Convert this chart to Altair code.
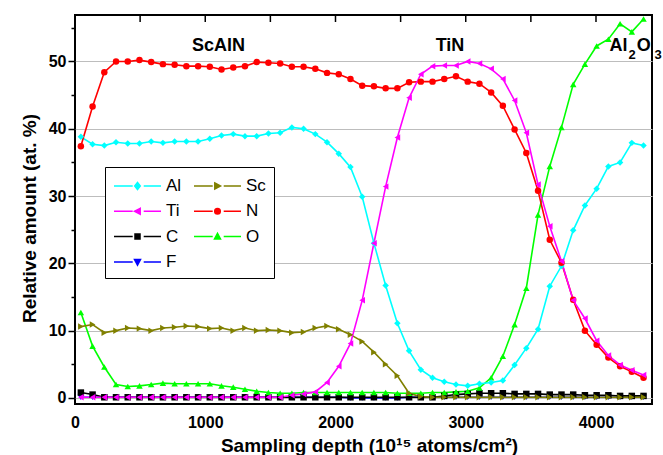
import altair as alt
import pandas as pd

# ---------------- data ----------------
depth = [45, 135, 225, 315, 405, 495, 585, 675, 765, 855, 945, 1035, 1125, 1215, 1305,
         1395, 1485, 1575, 1665, 1755, 1845, 1935, 2025, 2115, 2205, 2295, 2385, 2475,
         2565, 2655, 2745, 2835, 2925, 3015, 3105, 3195, 3285, 3375, 3465, 3555, 3645,
         3735, 3825, 3915, 4005, 4095, 4185, 4275, 4365]

al = [38.8, 37.7, 37.5, 38.0, 37.8, 37.8, 38.1, 37.9, 38.1, 38.1,
      38.1, 38.5, 39.0, 39.2, 38.9, 38.9, 39.3, 39.4, 40.2, 40.0,
      39.2, 38.0, 36.3, 34.3, 29.9, 23.0, 16.7, 11.1, 7.0, 4.2,
      3.0, 2.4, 2.0, 1.8, 2.1, 2.3, 2.6, 4.9, 7.4, 10.2,
      16.6, 19.6, 24.9, 28.6, 31.1, 34.4, 35.0, 37.9, 37.5]
sc = [10.6, 10.9, 9.7, 10.0, 10.4, 10.3, 10.0, 10.4, 10.5, 10.7,
      10.6, 10.3, 10.4, 10.0, 10.4, 10.0, 10.1, 10.0, 9.7, 9.8,
      10.4, 10.7, 10.2, 9.4, 8.4, 6.8, 5.0, 3.3, 0.7, 0.2,
      0.1, 0.1, 0.1, 0.1, 0.1, 0.1, 0.1, 0.1, 0.1, 0.1,
      0.1, 0.1, 0.1, 0.1, 0.1, 0.1, 0.1, 0.1, 0.1]
ti = [0.1, 0.1, 0.1, 0.1, 0.1, 0.1, 0.1, 0.1, 0.1, 0.1,
      0.1, 0.1, 0.1, 0.1, 0.1, 0.1, 0.1, 0.1, 0.4, 0.6,
      0.9, 2.3, 4.7, 8.1, 14.5, 23.0, 31.4, 38.7, 44.6, 48.1,
      49.3, 49.4, 49.4, 50.0, 49.7, 48.9, 47.4, 44.2, 39.4, 31.7,
      25.5, 20.3, 14.5, 11.8, 8.5, 6.3, 4.9, 4.1, 3.4]
n = [37.4, 43.3, 48.4, 50.0, 50.0, 50.2, 49.9, 49.6, 49.5, 49.3,
     49.3, 49.2, 48.8, 49.1, 49.3, 49.9, 49.8, 49.7, 49.2, 49.2,
     48.9, 48.3, 48.1, 47.4, 46.4, 46.3, 46.0, 46.0, 46.9, 47.0,
     47.0, 47.4, 47.8, 47.0, 46.7, 45.4, 43.4, 39.9, 36.4, 30.8,
     23.5, 20.1, 14.6, 10.0, 7.9, 6.0, 4.7, 3.9, 3.0]
c = [0.8, 0.5, 0.1, 0.1, 0.1, 0.1, 0.1, 0.1, 0.1, 0.1,
     0.1, 0.1, 0.1, 0.1, 0.1, 0.1, 0.1, 0.1, 0.1, 0.1,
     0.1, 0.1, 0.1, 0.1, 0.1, 0.1, 0.1, 0.1, 0.1, 0.1,
     0.1, 0.3, 0.5, 0.6, 0.7, 0.7, 0.7, 0.6, 0.6, 0.6,
     0.5, 0.5, 0.5, 0.4, 0.4, 0.4, 0.3, 0.3, 0.3]
o = [12.7, 7.7, 4.6, 2.0, 1.7, 1.8, 2.0, 2.2, 2.1, 2.1,
     2.1, 2.1, 1.8, 1.6, 1.3, 1.0, 0.8, 0.7, 0.7, 0.8,
     0.8, 0.8, 0.8, 0.8, 0.8, 0.8, 0.8, 0.7, 0.7, 0.7,
     0.8, 0.8, 0.9, 1.0, 1.5, 3.0, 6.2, 10.9, 16.3, 27.2,
     34.4, 40.2, 46.6, 49.6, 52.3, 53.3, 55.6, 54.4, 56.3]
f = [0.1, 0.1, 0.1, 0.1, 0.1, 0.1, 0.1, 0.1, 0.1, 0.1,
     0.1, 0.1, 0.1, 0.1, 0.1, 0.1, 0.1, 0.1, 0.1, 0.1,
     0.1, 0.1, 0.1, 0.0, 0.0, 0.0, 0.0, 0.0, 0.1, 0.1,
     0.1, 0.1, 0.1, 0.1, 0.1, 0.1, 0.1, 0.1, 0.1, 0.1,
     0.1, 0.1, 0.1, 0.1, 0.1, 0.1, 0.1, 0.1, 0.1]

series_names = ["Al", "Sc", "Ti", "N", "C", "O", "F"]
series_values = [al, sc, ti, n, c, o, f]
colors = ["#00ffff", "#808000", "#ff00ff", "#ff0000", "#000000", "#00ff00", "#0000ff"]
shapes = ["diamond", "triangle-right", "triangle-left", "circle", "square",
          "triangle-up", "triangle-down"]
draw_order = ["F", "C", "O", "Sc", "Al", "N", "Ti"]
# legend is laid out column by column: Al Ti C F | Sc N O
legend_order = ["Al", "Ti", "C", "F", "Sc", "N", "O"]

x_label_values = [0, 1000, 2000, 3000, 4000]
y_tick_values = [0, 5, 10, 15, 20, 25, 30, 35, 40, 45, 50, 55]
top_tick_values = [500, 1000, 1500, 2000, 2500, 3000, 3500, 4000]

ann_text = ["ScAlN", "TiN", "Al", "O"]
ann_x = [1102, 2879, 4104, 4312]
ann_y = [52.3, 52.3, 52.3, 52.3]
ann_align = ["center", "center", "left", "left"]
sub_text = ["2", "3"]
sub_x = [4250, 4450]
sub_y = [51.0, 51.0]

# legend symbols: line with marker in the middle
_line = "M-1,0L0.87,0M1.97,0L3.7,0"
legend_marks = {
    "Al": "M1.35,-0.36L1.63,0L1.35,0.36L1.07,0Z",
    "Sc": "M1.08,-0.3L1.65,0L1.08,0.3Z",
    "Ti": "M1.62,-0.3L1.05,0L1.62,0.3Z",
    "N": "M1.63,0A0.28,0.28 0 1,1 1.07,0A0.28,0.28 0 1,1 1.63,0Z",
    "C": "M1.1,-0.25L1.6,-0.25L1.6,0.25L1.1,0.25Z",
    "O": "M1.35,-0.32L1.65,0.24L1.05,0.24Z",
    "F": "M1.35,0.32L1.65,-0.24L1.05,-0.24Z",
}
legend_paths = [_line + legend_marks[s] for s in legend_order]
legend_colors = [colors[series_names.index(s)] for s in legend_order]

rows = []
for name, vals in zip(series_names, series_values):
    for d, v in zip(depth, vals):
        rows.append({"depth": d, "value": v, "series": name})
df = pd.DataFrame(rows)

FONT = "Liberation Sans"

x_enc = alt.X(
    "depth:Q",
    scale=alt.Scale(domain=[0, 4430], nice=False, zero=False),
    axis=alt.Axis(
        values=x_label_values, format="d", ticks=False, tickSize=0, grid=False,
        domain=False, labelFont=FONT, labelFontWeight="bold", labelFontSize=16,
        labelColor="black", labelPadding=10, labelFlush=False, labelOverlap=False,
        title="Sampling depth (10¹⁵ atoms/cm²)", titleFont=FONT, titleFontSize=19,
        titleFontWeight="bold", titleColor="black", titlePadding=6, titleX=294,
    ),
)
y_enc = alt.Y(
    "value:Q",
    scale=alt.Scale(domain=[-0.9, 56.9], nice=False, zero=False),
    axis=alt.Axis(
        values=y_tick_values,
        labelExpr="datum.value % 10 === 0 ? datum.label : ''",
        tickSize={"condition": {"test": "datum.value % 10 === 0", "value": 7}, "value": 4},
        gridOpacity={"condition": {"test": "datum.value % 10 === 0", "value": 1}, "value": 0},
        grid=True, gridColor="#bdbdbd", gridWidth=1.2,
        tickColor="black", tickWidth=1.5, domain=False,
        labelFont=FONT, labelFontWeight="bold", labelFontSize=16, labelColor="black",
        labelPadding=2, labelOverlap=False,
        title="Relative amount (at. %)", titleFont=FONT, titleFontSize=19,
        titleFontWeight="bold", titleColor="black", titleX=-36, titleY=203,
    ),
)

layers = []
for name in draw_order:
    i = series_names.index(name)
    base = alt.Chart(df).transform_filter(alt.datum.series == name)
    layers.append(base.mark_line(color=colors[i], strokeWidth=1.6).encode(x=x_enc, y=y_enc))
for name in draw_order:
    i = series_names.index(name)
    base = alt.Chart(df).transform_filter(alt.datum.series == name)
    layers.append(
        base.mark_point(filled=True, shape=shapes[i], size=42, opacity=1, color=colors[i])
        .encode(x=x_enc, y=y_enc)
    )

legend_spec = alt.Legend(
    title=None, orient="none", legendX=30, legendY=152, columns=2,
    symbolSize=400, symbolStrokeWidth=1.5, symbolOpacity=1,
    labelFont=FONT, labelFontSize=17, labelColor="black", labelOffset=31,
    columnPadding=9, rowPadding=6.3, padding=8,
    strokeColor="black", fillColor="white", cornerRadius=0,
)
legend_layer = (
    alt.Chart(df)
    .transform_filter(alt.datum.value < -100)
    .mark_point(filled=True, size=400, opacity=1, strokeWidth=1.5)
    .encode(
        x=x_enc, y=y_enc,
        shape=alt.Shape("series:N", scale=alt.Scale(domain=legend_order, range=legend_paths),
                        legend=legend_spec),
        fill=alt.Fill("series:N", scale=alt.Scale(domain=legend_order, range=legend_colors),
                      legend=legend_spec),
        stroke=alt.Stroke("series:N", scale=alt.Scale(domain=legend_order, range=legend_colors),
                          legend=legend_spec),
    )
)
layers.append(legend_layer)

top_ticks = alt.Chart(pd.DataFrame({"depth": top_tick_values})).mark_rule(
    color="black", strokeWidth=1.5
).encode(x=x_enc, y=alt.value(0), y2=alt.value(7))
layers.append(top_ticks)

ann_df = pd.DataFrame({"depth": ann_x, "value": ann_y, "t": ann_text, "al": ann_align})
for al_opt in ["center", "left"]:
    layers.append(
        alt.Chart(ann_df).transform_filter(alt.datum.al == al_opt)
        .mark_text(font=FONT, fontSize=18, fontWeight="bold", color="black",
                   align=al_opt, baseline="middle")
        .encode(x=x_enc, y=y_enc, text="t:N")
    )
sub_df = pd.DataFrame({"depth": sub_x, "value": sub_y, "t": sub_text})
layers.append(
    alt.Chart(sub_df).mark_text(font=FONT, fontSize=13, fontWeight="bold", color="black",
                                align="left", baseline="middle")
    .encode(x=x_enc, y=y_enc, text="t:N")
)

chart = (
    alt.layer(*layers)
    .properties(
        width=577, height=389,
        autosize=alt.AutoSizeParams(type="none"),
        padding={"left": 75, "top": 15, "right": 11, "bottom": 51},
        background="white",
    )
    .configure_view(stroke="black", strokeWidth=2)
)

chart.save("out.html", embed_options={"renderer": "svg", "actions": False})
